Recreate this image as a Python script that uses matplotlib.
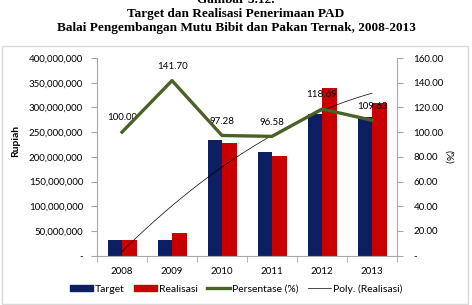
import numpy as np
import matplotlib
matplotlib.use('Agg')
import matplotlib.pyplot as plt
from matplotlib.patches import Rectangle
from matplotlib.lines import Line2D

years = ['2008', '2009', '2010', '2011', '2012', '2013']
target = [31.8e6, 31.8e6, 233.5e6, 209.0e6, 286.0e6, 281.5e6]
realisasi = [31.8e6, 45.1e6, 227.1e6, 201.9e6, 339.5e6, 308.6e6]
persentase = [100.00, 141.70, 97.28, 96.58, 118.69, 109.63]
left_ticks = [0, 50e6, 100e6, 150e6, 200e6, 250e6, 300e6, 350e6, 400e6]
right_ticks = [0, 20, 40, 60, 80, 100, 120, 140, 160]

navy = '#0c1f63'
red = '#c80000'
green = '#4a6127'
grey = '#a6a6a6'

plt.rcParams['font.family'] = ['Lato', 'DejaVu Sans']

fig = plt.figure(figsize=(4.72, 3.05), dpi=100)

# outer chart frame
fig.patches.append(Rectangle((2 / 472, 1 - 304 / 305), 466 / 472, 258 / 305,
                             transform=fig.transFigure, fill=False,
                             edgecolor='#d9d9d9', linewidth=1.0))

fig.text(0.5, 1.0, 'Gambar 3.12.', ha='center', va='center',
         family='Liberation Serif', weight='bold', fontsize=9.5)
fig.text(0.5, 1 - 14 / 305, 'Target dan Realisasi Penerimaan PAD', ha='center', va='center',
         family='Liberation Serif', weight='bold', fontsize=9.5)
fig.text(0.5, 1 - 28 / 305, 'Balai Pengembangan Mutu Bibit dan Pakan Ternak, 2008-2013',
         ha='center', va='center', family='Liberation Serif', weight='bold', fontsize=9.5)

ax = fig.add_axes([97 / 472, 1 - 255.7 / 305, 300 / 472, 197.7 / 305])
x = np.arange(len(years))
w = 0.29
ax.bar(x - w / 2, target, w, color=navy, zorder=2)
ax.bar(x + w / 2, realisasi, w, color=red, zorder=2)

# polynomial trend of realisasi
coef = np.polyfit(x, realisasi, 2)
xs = np.linspace(0, len(years) - 1, 100)
ax.plot(xs, np.polyval(coef, xs), color='black', linewidth=0.5, zorder=3)

ax.set_xlim(-0.5, len(years) - 0.5)
ax.set_ylim(0, 400e6)
ax.set_yticks(left_ticks)
ax.set_yticklabels(['-'] + [f'{v:,.0f}' for v in left_ticks[1:]])
ax.set_xticks(x)
ax.set_xticklabels(years)
ax.set_xticks(np.arange(-0.5, len(years)), minor=True)
ax.tick_params(axis='x', which='major', length=0, pad=8, labelsize=7)
ax.tick_params(axis='x', which='minor', length=4, color=grey, direction='out')
ax.tick_params(axis='y', length=4, color=grey, labelsize=7, pad=6)
for s in ['top', 'right']:
    ax.spines[s].set_visible(False)
for s in ['left', 'bottom']:
    ax.spines[s].set_color(grey)
    ax.spines[s].set_linewidth(0.8)
ax.set_ylabel('Rupiah', fontsize=7.5, weight='bold')
ax.yaxis.set_label_coords(-0.257, 0.58)

ax2 = ax.twinx()
ax2.plot(x, persentase, color=green, linewidth=2.4, zorder=4)
for xi, p in zip(x, persentase):
    ax2.annotate(f'{p:.2f}', (xi, p), xytext=(0, 7), textcoords='offset points',
                 ha='center', va='bottom', fontsize=7)
ax2.set_ylim(0, 160)
ax2.set_yticks(right_ticks)
ax2.set_yticklabels(['-'] + [f'{v:.2f}' for v in right_ticks[1:]])
ax2.tick_params(axis='y', length=4, color=grey, labelsize=7, pad=8)
for s in ['top', 'left', 'bottom']:
    ax2.spines[s].set_visible(False)
ax2.spines['right'].set_color(grey)
ax2.spines['right'].set_linewidth(0.8)
ax2.set_ylabel('(%)', fontsize=7.5, rotation=270, va='center')
ax2.yaxis.set_label_coords(1.173, 0.5)

handles = [Rectangle((0, 0), 1, 1, color=navy), Rectangle((0, 0), 1, 1, color=red),
           Line2D([], [], color=green, linewidth=2.4), Line2D([], [], color='black', linewidth=0.5)]
fig.legend(handles, ['Target', 'Realisasi', 'Persentase (%)', 'Poly. (Realisasi)'],
           loc='center', bbox_to_anchor=(0.5, 1 - 289 / 305), ncol=4, frameon=False,
           fontsize=7.5, handlelength=2.2, handleheight=0.6, handletextpad=0.2,
           columnspacing=0.9)

fig.savefig('out.png', dpi=100)
